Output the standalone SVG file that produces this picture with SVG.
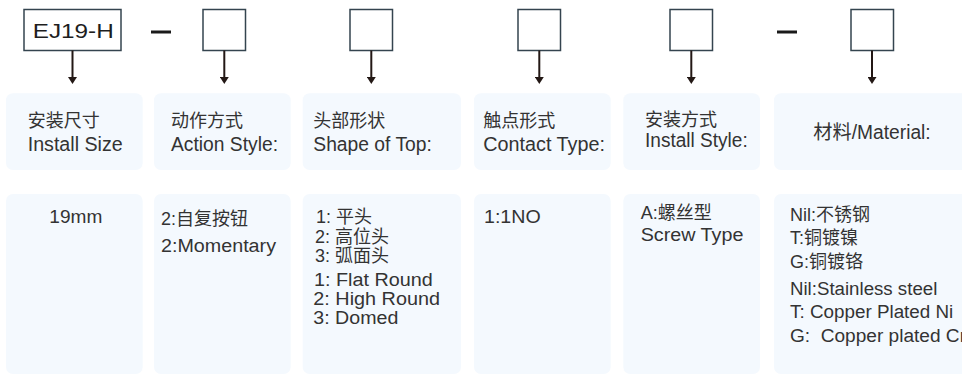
<svg xmlns="http://www.w3.org/2000/svg" width="962" height="375" viewBox="0 0 962 375">
<style>
.code{fill:#fff;stroke:#34444f;stroke-width:1.5}
.dash{stroke:#1a1a1a;stroke-width:3}
.conn{stroke:#231815;stroke-width:2;fill:none;marker-end:url(#ah)}
.card{fill:#f4f9fe}
text{font-family:"Liberation Sans","Noto Sans CJK SC",sans-serif;fill:#333333}
.h{font-size:18px}
.he{font-size:19.5px}
.c{font-size:18px}
.big{font-size:20.5px;fill:#1e1e1e}
</style>
<defs>
<marker id="ah" viewBox="0 0 7 9" markerWidth="7" markerHeight="9" refX="3" refY="4.5" orient="auto" markerUnits="userSpaceOnUse">
<path d="M0,0 L7,4.5 L0,9 z" fill="#231815"/>
</marker>
</defs>
<rect width="962" height="375" fill="#ffffff"/>

<g id="code-row">
<g id="code-base"><rect class="code" x="24" y="9.5" width="97" height="41"/><text class="big" x="32.7" y="37.5" textLength="81" lengthAdjust="spacingAndGlyphs">EJ19-H</text></g>
<line class="dash" x1="151" y1="32" x2="171" y2="32"/>
<g id="slot-action"><rect class="code" x="203" y="9.5" width="42.5" height="41"/></g>
<g id="slot-shape"><rect class="code" x="350" y="9.5" width="42.5" height="41"/></g>
<g id="slot-contact"><rect class="code" x="518" y="9.5" width="42.5" height="41"/></g>
<g id="slot-install"><rect class="code" x="670" y="9.5" width="42.5" height="41"/></g>
<line class="dash" x1="777" y1="32" x2="797" y2="32"/>
<g id="slot-material"><rect class="code" x="851" y="9.5" width="42.5" height="41"/></g>
</g>

<g id="connectors">
<line class="conn" x1="72.5" y1="50.5" x2="72.5" y2="80"/>
<line class="conn" x1="224.3" y1="50.5" x2="224.3" y2="80"/>
<line class="conn" x1="371.3" y1="50.5" x2="371.3" y2="80"/>
<line class="conn" x1="539.3" y1="50.5" x2="539.3" y2="80"/>
<line class="conn" x1="691.3" y1="50.5" x2="691.3" y2="80"/>
<line class="conn" x1="872" y1="50.5" x2="872" y2="80"/>
</g>

<g id="header-size">
<rect class="card" x="6" y="93.3" width="136.7" height="76.7" rx="7"/>
<text class="h" x="27.7" y="127">安装尺寸</text>
<text class="he" x="27.7" y="150.7" textLength="95" lengthAdjust="spacingAndGlyphs">Install Size</text>
</g>
<g id="header-action">
<rect class="card" x="154" y="93.3" width="136.7" height="76.7" rx="7"/>
<text class="h" x="171" y="127">动作方式</text>
<text class="he" x="171" y="150.7" textLength="107" lengthAdjust="spacingAndGlyphs">Action Style:</text>
</g>
<g id="header-shape">
<rect class="card" x="302.7" y="93.3" width="158.3" height="76.7" rx="7"/>
<text class="h" x="313.3" y="127">头部形状</text>
<text class="he" x="313.3" y="150.7" textLength="118.5" lengthAdjust="spacingAndGlyphs">Shape of Top:</text>
</g>
<g id="header-contact">
<rect class="card" x="474" y="93.3" width="136.7" height="76.7" rx="7"/>
<text class="h" x="483.3" y="127">触点形式</text>
<text class="he" x="483.3" y="150.7" textLength="121.7" lengthAdjust="spacingAndGlyphs">Contact Type:</text>
</g>
<g id="header-install">
<rect class="card" x="623.3" y="93.3" width="136.7" height="76.7" rx="7"/>
<text class="h" x="645" y="126">安装方式</text>
<text class="he" x="645" y="147.3" textLength="102.7" lengthAdjust="spacingAndGlyphs">Install Style:</text>
</g>
<g id="header-material">
<rect class="card" x="774" y="93.3" width="196" height="76.7" rx="7"/>
<text class="he" x="813.3" y="139.3" textLength="117.4" lengthAdjust="spacingAndGlyphs">材料/Material:</text>
</g>

<g id="value-size">
<rect class="card" x="6" y="194" width="136.7" height="180" rx="7"/>
<text class="c" x="49.3" y="223.3" textLength="53" lengthAdjust="spacingAndGlyphs">19mm</text>
</g>
<g id="value-action">
<rect class="card" x="154" y="194" width="136.7" height="180" rx="7"/>
<text class="c" x="161" y="225">2:自复按钮</text>
<text class="c" x="161" y="251.7" textLength="115" lengthAdjust="spacingAndGlyphs">2:Momentary</text>
</g>
<g id="value-shape">
<rect class="card" x="302.7" y="194" width="158.3" height="180" rx="7"/>
<text class="c" x="316" y="222.7" style="white-space:pre">1: 平头</text>
<text class="c" x="315" y="243.3" style="white-space:pre">2: 高位头</text>
<text class="c" x="315" y="261.7" style="white-space:pre">3: 弧面头</text>
<text class="c" x="314" y="286" textLength="118.7" lengthAdjust="spacingAndGlyphs">1: Flat Round</text>
<text class="c" x="313.3" y="305" textLength="126.7" lengthAdjust="spacingAndGlyphs">2: High Round</text>
<text class="c" x="313.3" y="324" textLength="85" lengthAdjust="spacingAndGlyphs">3: Domed</text>
</g>
<g id="value-contact">
<rect class="card" x="474" y="194" width="136.7" height="180" rx="7"/>
<text class="c" x="484" y="223.3" textLength="56.7" lengthAdjust="spacingAndGlyphs">1:1NO</text>
</g>
<g id="value-install">
<rect class="card" x="623.3" y="194" width="136.7" height="180" rx="7"/>
<text class="c" x="640.7" y="219">A:螺丝型</text>
<text class="c" x="640.7" y="241" textLength="102.7" lengthAdjust="spacingAndGlyphs">Screw Type</text>
</g>
<g id="value-material">
<rect class="card" x="774" y="194" width="196" height="180" rx="7"/>
<text class="c" x="790" y="220.7">Nil:不锈钢</text>
<text class="c" x="790" y="244.3">T:铜镀镍</text>
<text class="c" x="790" y="268.3">G:铜镀铬</text>
<text class="c" x="790" y="295" textLength="147.3" lengthAdjust="spacingAndGlyphs">Nil:Stainless steel</text>
<text class="c" x="790" y="318.3" textLength="163.3" lengthAdjust="spacingAndGlyphs">T: Copper Plated Ni</text>
<text class="c" x="790" y="342.3" style="white-space:pre" textLength="176" lengthAdjust="spacingAndGlyphs">G:  Copper plated Cr</text>
</g>
</svg>
